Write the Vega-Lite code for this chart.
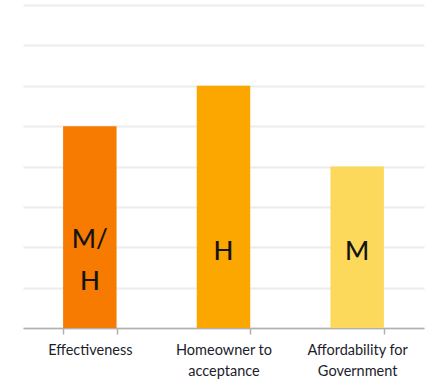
{
  "$schema": "https://vega.github.io/schema/vega-lite/v6.json",
  "autosize": {"type": "none"},
  "width": 401,
  "height": 323,
  "padding": {"left": 23, "top": 5, "right": 7, "bottom": 55},
  "background": "white",
  "config": {"view": {"stroke": null}, "font": "Lato"},
  "data": {
    "values": [
      {"criterion": "Effectiveness", "score": 5, "rating": "M/\nH", "lines": 2},
      {"criterion": "Homeowner to|acceptance", "score": 6, "rating": "H", "lines": 1},
      {"criterion": "Affordability for|Government", "score": 4, "rating": "M", "lines": 1}
    ]
  },
  "encoding": {
    "x": {
      "field": "criterion",
      "type": "nominal",
      "sort": null,
      "scale": {"paddingInner": 0.6, "paddingOuter": 0.3},
      "axis": {
        "title": null,
        "labelAngle": 0,
        "labelExpr": "split(datum.label, '|')",
        "labelFont": "Lato",
        "labelFontSize": 14.5,
        "labelColor": "#1c1c2c",
        "labelLineHeight": 21,
        "labelPadding": 9,
        "labelBaseline": "top",
        "domainColor": "#b0b0b0",
        "domainWidth": 1.5,
        "tickColor": "#b0b0b0",
        "tickWidth": 1.5,
        "tickSize": 6,
        "tickBand": "extent"
      }
    }
  },
  "layer": [
    {
      "mark": {"type": "bar"},
      "encoding": {
        "y": {
          "field": "score",
          "type": "quantitative",
          "scale": {"domain": [0, 8]},
          "axis": {
            "title": null,
            "labels": false,
            "ticks": false,
            "domain": false,
            "tickCount": 8,
            "gridColor": "#ececec",
            "gridWidth": 2
          }
        },
        "color": {
          "field": "criterion",
          "type": "nominal",
          "sort": null,
          "scale": {"range": ["#f77b00", "#fca600", "#fcd95a"]},
          "legend": null
        }
      }
    },
    {
      "transform": [{"filter": "datum.lines == 1"}],
      "mark": {"type": "text", "fontSize": 26, "font": "Lato", "fontWeight": 500, "color": "#141414", "baseline": "middle"},
      "encoding": {
        "y": {"datum": 1.87, "type": "quantitative"},
        "text": {"field": "rating"}
      }
    },
    {
      "transform": [{"filter": "datum.lines == 2"}],
      "mark": {"type": "text", "fontSize": 26, "font": "Lato", "fontWeight": 500, "color": "#141414", "baseline": "middle", "lineBreak": "\n", "lineHeight": 42, "dy": -12},
      "encoding": {
        "y": {"datum": 1.87, "type": "quantitative"},
        "text": {"field": "rating"}
      }
    }
  ]
}
